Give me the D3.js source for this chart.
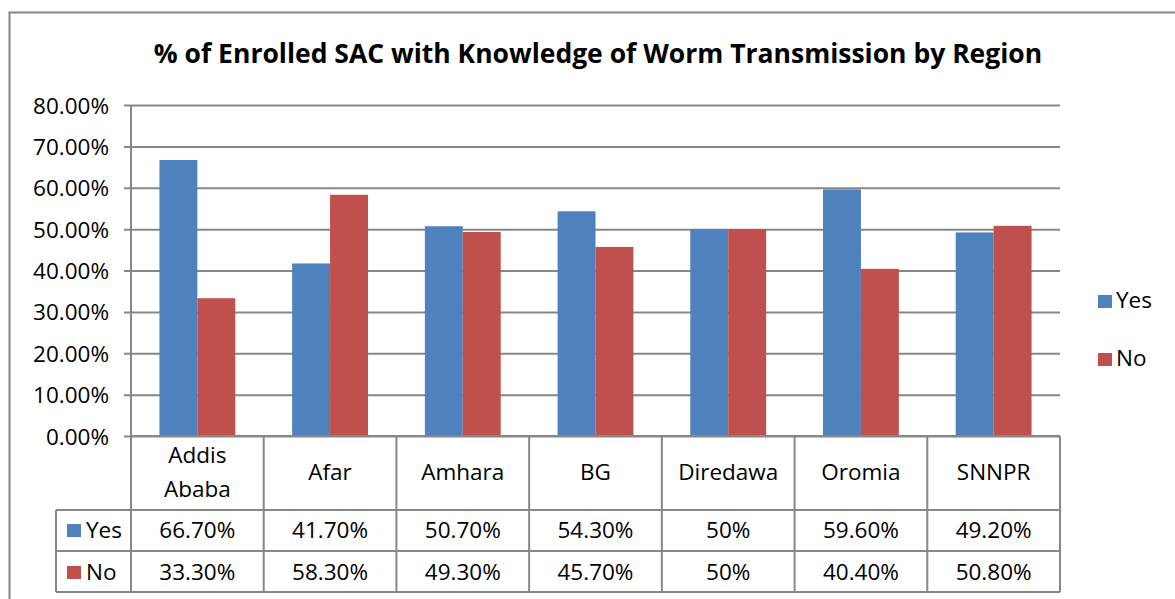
<!DOCTYPE html>
<html>
<head>
<meta charset="utf-8">
<script src="https://cdn.jsdelivr.net/npm/d3@7"></script>
<style>
  body { margin: 0; background: #fff; }
  text { font-family: "Open Sans", "Noto Sans", sans-serif; fill: #000; }
</style>
</head>
<body>
<div id="chart"></div>
<script>
// chart data
var regions = ["Addis Ababa", "Afar", "Amhara", "BG", "Diredawa", "Oromia", "SNNPR"];
var yesValues = [66.7, 41.7, 50.7, 54.3, 50, 59.6, 49.2];
var noValues = [33.3, 58.3, 49.3, 45.7, 50, 40.4, 50.8];
var yesLabels = ["66.70%", "41.70%", "50.70%", "54.30%", "50%", "59.60%", "49.20%"];
var noLabels = ["33.30%", "58.30%", "49.30%", "45.70%", "50%", "40.40%", "50.80%"];
var seriesNames = ["Yes", "No"];
var yTicks = [0, 10, 20, 30, 40, 50, 60, 70, 80];

var width = 1175, height = 599;
var blue = "#4F81BD", red = "#C0504D", grid = "#878787";
var fontSize = "22.5px";

var svg = d3.select("#chart").append("svg")
  .attr("width", width)
  .attr("height", height);

// outer chart frame
svg.append("rect")
  .attr("x", 9.5).attr("y", 12.5)
  .attr("width", 1200).attr("height", 700)
  .attr("fill", "none").attr("stroke", "#868686").attr("stroke-width", 2);

// title
svg.append("text")
  .attr("x", 598).attr("y", 63)
  .attr("text-anchor", "middle")
  .style("font-size", "26.5px").style("font-weight", "bold")
  .text("% of Enrolled SAC with Knowledge of Worm Transmission by Region");

var plotLeft = 131, plotRight = 1060, plotTop = 105, plotBottom = 436;

var x = d3.scaleBand().domain(regions).range([plotLeft, plotRight]);
// gap width 150% -> outer padding of 0.75 bar on each side
var inner = d3.scaleBand().domain(seriesNames).range([0, x.bandwidth()]).paddingInner(0).paddingOuter(0.75);
var y = d3.scaleLinear().domain([0, 80]).range([plotBottom, plotTop]);

// gridlines and ticks
var yAxis = d3.axisLeft(y)
  .tickValues(yTicks)
  .tickSize(-(plotRight - plotLeft))
  .tickFormat(function(d) { return d3.format(".2f")(d) + "%"; });

var gAxis = svg.append("g")
  .attr("transform", "translate(" + plotLeft + ",0)")
  .call(yAxis);
gAxis.select(".domain").remove();
gAxis.selectAll(".tick line")
  .attr("x1", -7)
  .attr("stroke", grid).attr("stroke-width", 2);
gAxis.selectAll(".tick text")
  .attr("x", -22)
  .attr("dy", "0.36em")
  .style("font-size", fontSize)
  .style("font-family", "'Open Sans', sans-serif")
  .attr("fill", "#000");

// y axis line
svg.append("line")
  .attr("x1", plotLeft).attr("x2", plotLeft)
  .attr("y1", plotTop).attr("y2", plotBottom)
  .attr("stroke", grid).attr("stroke-width", 2);

// bars
var rows = regions.map(function(r, i) {
  return { region: r, values: [yesValues[i], noValues[i]] };
});
var colors = d3.scaleOrdinal().domain(seriesNames).range([blue, red]);

var groups = svg.selectAll(".grp").data(rows).enter().append("g")
  .attr("class", "grp")
  .attr("transform", function(d) { return "translate(" + x(d.region) + ",0)"; });

groups.selectAll("rect")
  .data(function(d) { return seriesNames.map(function(s, k) { return { s: s, v: d.values[k] }; }); })
  .enter().append("rect")
  .attr("x", function(d) { return inner(d.s); })
  .attr("width", inner.bandwidth())
  .attr("y", function(d) { return y(d.v); })
  .attr("height", function(d) { return plotBottom - y(d.v); })
  .attr("fill", function(d) { return colors(d.s); });

// data table
var headerBottom = 510, row1Bottom = 551, row2Bottom = 592, tableLeft = 56;
var tbl = svg.append("g").attr("stroke", grid).attr("stroke-width", 2).attr("fill", "none");

tbl.append("line").attr("x1", plotLeft).attr("x2", plotRight).attr("y1", plotBottom).attr("y2", plotBottom);
[headerBottom, row1Bottom, row2Bottom].forEach(function(yy) {
  tbl.append("line").attr("x1", tableLeft).attr("x2", plotRight).attr("y1", yy).attr("y2", yy);
});
tbl.append("line").attr("x1", tableLeft).attr("x2", tableLeft).attr("y1", headerBottom).attr("y2", row2Bottom);
regions.forEach(function(r) {
  tbl.append("line").attr("x1", x(r)).attr("x2", x(r)).attr("y1", plotBottom).attr("y2", row2Bottom);
});
tbl.append("line").attr("x1", plotRight).attr("x2", plotRight).attr("y1", plotBottom).attr("y2", row2Bottom);

// category headers
regions.forEach(function(r) {
  var words = r.split(" ");
  var cx = x(r) + x.bandwidth() / 2;
  var t = svg.append("text")
    .attr("x", cx)
    .attr("text-anchor", "middle")
    .style("font-size", fontSize);
  if (words.length > 1) {
    t.attr("y", 463);
    words.forEach(function(w, i) {
      t.append("tspan").attr("x", cx).attr("dy", i === 0 ? 0 : 34).text(w);
    });
  } else {
    t.attr("y", 480).text(r);
  }
});

// value rows
var rowDefs = [
  { name: "Yes", labels: yesLabels, y: 538, color: blue },
  { name: "No", labels: noLabels, y: 580, color: red }
];
rowDefs.forEach(function(rd) {
  rd.labels.forEach(function(lab, i) {
    svg.append("text")
      .attr("x", x(regions[i]) + x.bandwidth() / 2)
      .attr("y", rd.y)
      .attr("text-anchor", "middle")
      .style("font-size", fontSize)
      .text(lab);
  });
  svg.append("rect").attr("x", 67).attr("y", rd.y - 14).attr("width", 14).attr("height", 13).attr("fill", rd.color);
  svg.append("text").attr("x", 86).attr("y", rd.y).style("font-size", fontSize).text(rd.name);
});

// legend
var legend = svg.selectAll(".legend").data(seriesNames).enter().append("g")
  .attr("class", "legend")
  .attr("transform", function(d, i) { return "translate(1098," + (295 + i * 58) + ")"; });
legend.append("rect").attr("width", 14).attr("height", 13).attr("fill", function(d) { return colors(d); });
legend.append("text").attr("x", 18).attr("y", 13).style("font-size", fontSize).text(function(d) { return d; });
</script>
</body>
</html>
